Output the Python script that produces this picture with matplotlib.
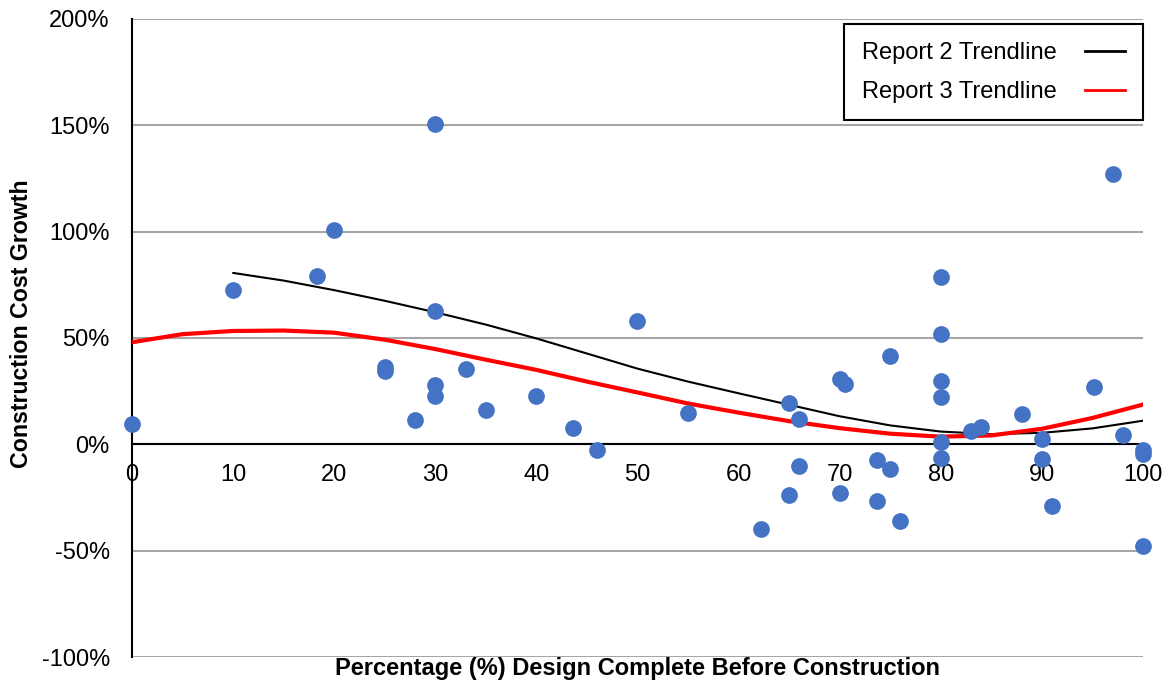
import matplotlib
matplotlib.use("Agg")
import matplotlib.pyplot as plt
from matplotlib.ticker import FuncFormatter
from matplotlib.lines import Line2D

plt.rcParams['font.family'] = ['Liberation Sans', 'DejaVu Sans']

# Scatter data: % design complete vs construction cost growth (%)
design_pct = [0, 10, 18.3, 20, 25, 25, 28, 30, 30, 30, 30, 33, 35, 40, 43.6, 46, 50, 55,
              62.2, 65, 65, 66, 66, 70, 70.5, 70, 73.7, 73.7, 75, 75, 76,
              80, 80, 80, 80, 80, 80, 83, 84, 88, 90, 90, 91, 95.2, 97, 98,
              100, 100, 100]
cost_growth = [9.7, 72.7, 79.3, 101, 36.5, 34.6, 11.6, 150.8, 62.9, 28, 22.9, 35.6, 16.3, 22.9, 7.9, -2.5, 58, 14.9,
               -39.6, 19.6, -23.6, 12.1, -10, 30.9, 28.6, -22.7, -7.4, -26.5, 41.7, -11.4, -36,
               78.8, 52, 30, 22.4, 1.3, -6.2, 6.4, 8.3, 14.4, 2.7, -6.7, -28.8, 27, 127, 4.6,
               -2.5, -4.4, -48]

# Trendlines
r2_x = [10, 15, 20, 25, 30, 35, 40, 45, 50, 55, 60, 65, 70, 75, 80, 85, 90, 95, 100]
r2_y = [80.6, 77.0, 72.5, 67.5, 62.1, 56.3, 49.8, 42.7, 35.6, 29.5, 24.0, 18.6, 13.2, 8.9, 6.0, 4.8, 5.4, 7.5, 11.1]
r3_x = [0, 5, 10, 15, 20, 25, 30, 35, 40, 45, 50, 55, 60, 65, 70, 75, 80, 85, 90, 95, 100]
r3_y = [48.0, 51.8, 53.3, 53.5, 52.5, 49.2, 44.8, 39.8, 35.0, 29.5, 24.4, 19.2, 14.9, 10.9, 7.6, 5.0, 3.6, 4.2, 7.3, 12.4, 18.7]

x_ticks = [0, 10, 20, 30, 40, 50, 60, 70, 80, 90, 100]
y_ticks = [-100, -50, 0, 50, 100, 150, 200]

fig = plt.figure(figsize=(11.7, 6.9), dpi=100)
ax = fig.add_axes([0.1128, 0.0478, 0.9769 - 0.1128, 0.9725 - 0.0478])

ax.set_xlim(0, 100)
ax.set_ylim(-100, 200)
ax.set_yticks(y_ticks)
ax.set_xticks(x_ticks)
ax.yaxis.set_major_formatter(FuncFormatter(lambda v, p: f"{int(v)}%"))
ax.grid(axis='y', color='#a6a6a6', linewidth=1.5, zorder=0)
ax.set_axisbelow(True)

for s in ['top', 'right']:
    ax.spines[s].set_visible(False)
ax.spines['bottom'].set_position(('data', 0))
ax.spines['bottom'].set_linewidth(1.5)
ax.spines['bottom'].set_color('black')
ax.spines['left'].set_linewidth(1.5)
ax.spines['left'].set_color('black')

ax.tick_params(axis='x', length=0, pad=14, labelsize=17)
ax.tick_params(axis='y', length=0, pad=16, labelsize=17)

ax.plot(r2_x, r2_y, color='black', linewidth=1.5, zorder=3, solid_capstyle='round', solid_joinstyle='round')
ax.plot(r3_x, r3_y, color='#ff0000', linewidth=3, zorder=3, solid_capstyle='round', solid_joinstyle='round')
ax.scatter(design_pct, cost_growth, s=145, color='#4472c4', zorder=4, clip_on=False, linewidths=0)

ax.set_ylabel('Construction Cost Growth', fontsize=16.7, fontweight='bold')
ax.yaxis.set_label_coords(-0.098, 0.522)
fig.text(0.5449, 0.031, 'Percentage (%) Design Complete Before Construction',
         ha='center', va='center', fontsize=17, fontweight='bold')

handles = [Line2D([0], [0], color='black', linewidth=2),
           Line2D([0], [0], color='#ff0000', linewidth=2)]
leg = ax.legend(handles, ['Report 2 Trendline', 'Report 3 Trendline'], loc='upper right',
                bbox_to_anchor=(1.0, 0.992), markerfirst=False, fancybox=False, framealpha=1,
                edgecolor='black', fontsize=17, borderpad=0.75, labelspacing=0.72,
                handlelength=1.7, handletextpad=1.2, borderaxespad=0.0)
leg.get_frame().set_linewidth(1.5)

fig.savefig('out.png', dpi=100)
